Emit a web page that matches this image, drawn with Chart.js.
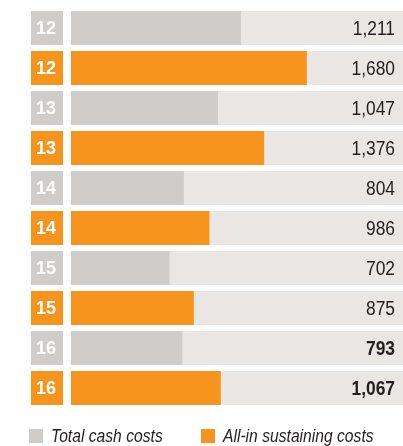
<!DOCTYPE html>
<html>
<head>
<meta charset="utf-8">
<script src="https://cdn.jsdelivr.net/npm/chart.js@4/dist/chart.umd.min.js"></script>
<style>
    html, body { margin: 0; padding: 0; background: #fff; }
    #wrap { width: 403px; height: 446px; position: relative; }
</style>
</head>
<body>
<div id="wrap"><canvas id="costChart"></canvas></div>
<script>
// Year labels, one per bar row (cash cost row, then AISC row)
const years = ["12", "12", "13", "13", "14", "14", "15", "15", "16", "16"];
const totalCashCosts = [1211, null, 1047, null, 804, null, 702, null, 793, null];
const allInSustainingCosts = [null, 1680, null, 1376, null, 986, null, 875, null, 1067];
const axisMax = 2365;
const trackValues = years.map(() => axisMax);

const GREY = "#d0ccc9";
const ORANGE = "#f7941d";
const TRACK = "#e9e6e3";
const TEXT = "#231f20";
const FONT = "'Liberation Sans', Arial, sans-serif";
const NARROW = 0.87;

const rowColour = (i) => (totalCashCosts[i] !== null ? GREY : ORANGE);

// draws text squeezed horizontally, to get a condensed look
function narrowText(ctx, text, x, y, align) {
    ctx.save();
    ctx.translate(x, y);
    ctx.scale(NARROW, 1);
    ctx.textAlign = align;
    ctx.fillText(text, 0, 0);
    ctx.restore();
}

const rowDecorations = {
    id: "rowDecorations",
    afterDatasetsDraw(chart) {
        const ctx = chart.ctx;
        const yScale = chart.scales.y;
        const area = chart.chartArea;
        const bar = chart.getDatasetMeta(2).data[0];
        const h = bar.height;
        ctx.save();
        ctx.textBaseline = "middle";
        years.forEach((label, i) => {
            const yc = yScale.getPixelForValue(i);
            // year box
            ctx.fillStyle = rowColour(i);
            ctx.fillRect(31, yc - h / 2, 32, h);
            ctx.fillStyle = "#fff";
            ctx.font = "bold 18px " + FONT;
            ctx.textAlign = "center";
            ctx.fillText(label, 46, yc + 1);
            // value
            const v = totalCashCosts[i] !== null ? totalCashCosts[i] : allInSustainingCosts[i];
            const latest = i >= years.length - 2;
            ctx.fillStyle = TEXT;
            ctx.font = (latest ? "bold " : "") + "20px " + FONT;
            narrowText(ctx, v.toLocaleString("en-US"), area.right - 8, yc + 1, "right");
        });
        // legend
        const items = [
            { x: 29, ds: chart.data.datasets[0] },
            { x: 201, ds: chart.data.datasets[1] }
        ];
        ctx.font = "italic 18px " + FONT;
        items.forEach((it) => {
            ctx.fillStyle = it.ds.backgroundColor;
            ctx.fillRect(it.x, 429, 14, 14);
            ctx.fillStyle = TEXT;
            narrowText(ctx, it.ds.label, it.x + 22, 437, "left");
        });
        ctx.restore();
    }
};

new Chart(document.getElementById("costChart"), {
    type: "bar",
    data: {
        labels: years,
        datasets: [
            {
                label: "Total cash costs",
                data: totalCashCosts,
                backgroundColor: GREY,
                grouped: false,
                order: 1
            },
            {
                label: "All-in sustaining costs",
                data: allInSustainingCosts,
                backgroundColor: ORANGE,
                grouped: false,
                order: 1
            },
            {
                label: "track",
                data: trackValues,
                backgroundColor: TRACK,
                grouped: false,
                order: 2
            }
        ]
    },
    options: {
        indexAxis: "y",
        responsive: true,
        maintainAspectRatio: false,
        animation: false,
        categoryPercentage: 1,
        barPercentage: 0.85,
        layout: {
            padding: { left: 71, right: 0, top: 8, bottom: 38 }
        },
        scales: {
            x: { display: false, min: 0, max: axisMax },
            y: { display: false, grid: { display: false } }
        },
        plugins: {
            legend: { display: false },
            tooltip: { enabled: false }
        }
    },
    plugins: [rowDecorations]
});
</script>
</body>
</html>
